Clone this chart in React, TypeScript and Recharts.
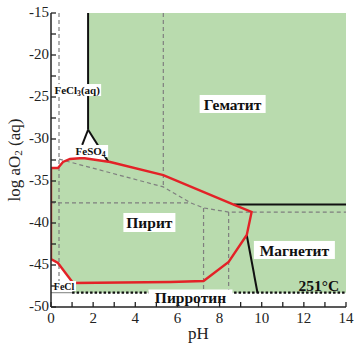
import { ComposedChart, Line, Area, Scatter, XAxis, YAxis } from "recharts";

// pH axis and log aO2 axis
const PH_TICKS = [0, 1, 2, 3, 4, 5, 6, 7, 8, 9, 10, 11, 12, 13, 14];
const LOG_TICKS = [-50, -47.5, -45, -42.5, -40, -37.5, -35, -32.5, -30, -27.5, -25, -22.5, -20, -17.5, -15];

// filled stability field (solid phases) and the white fields of aqueous species
const SOLID_FIELD = [
  { x: 0, r: [-48.3, -15] },
  { x: 14, r: [-48.3, -15] },
];
const FECL3_FIELD = [
  { x: 0, r: [-33.45, -15] },
  { x: 0.33, r: [-33.45, -15] },
  { x: 0.57, r: [-32.74, -15] },
  { x: 0.9, r: [-32.38, -15] },
  { x: 1.52, r: [-32.26, -15] },
  { x: 1.76, r: [-32.35, -15] },
  { x: 1.76, r: [-32.35, -28.9] },
  { x: 2.72, r: [-32.7, -32.7] },
];
const FECL_FIELD = [
  { x: 0, r: [-48.3, -44.29] },
  { x: 0.33, r: [-48.3, -44.76] },
  { x: 0.76, r: [-48.3, -46.19] },
  { x: 1.05, r: [-48.3, -47.14] },
];

// red contour
const RED_LOOP = [
  { x: 0, v: -33.45 },
  { x: 0.33, v: -33.45 },
  { x: 0.57, v: -32.74 },
  { x: 0.9, v: -32.38 },
  { x: 1.52, v: -32.26 },
  { x: 2.81, v: -32.74 },
  { x: 5.33, v: -34.29 },
  { x: 8.67, v: -37.8 },
  { x: 9.52, v: -38.69 },
  { x: 9.29, v: -41.43 },
  { x: 8.43, v: -44.64 },
  { x: 7.24, v: -46.9 },
  { x: 5.67, v: -47.02 },
  { x: 1.05, v: -47.14 },
  { x: 0.76, v: -46.19 },
  { x: 0.33, v: -44.76 },
  { x: 0, v: -44.29 },
  { x: 0, v: -33.45 },
];

// black phase boundaries
const FECL3_HEM = [
  { x: 1.76, v: -15 },
  { x: 1.76, v: -28.9 },
];
const FORK_LEFT = [
  { x: 1.76, v: -28.9 },
  { x: 1.48, v: -30.7 },
];
const FORK_RIGHT = [
  { x: 1.76, v: -28.9 },
  { x: 2.72, v: -32.7 },
];
const HEM_MAG = [
  { x: 8.67, v: -37.8 },
  { x: 14, v: -37.8 },
];
const PYR_MAG = [
  { x: 9.29, v: -41.43 },
  { x: 9.8, v: -48.3 },
];
const PYRRH_TOP = [
  { x: 1.0, v: -48.3 },
  { x: 14, v: -48.3 },
];
const FECL_BASE = [
  { x: 0, v: -48.3 },
  { x: 1.0, v: -48.3 },
];

// grey dashed boundaries
const DASH_V1 = [
  { x: 0.38, v: -15 },
  { x: 0.38, v: -48.3 },
];
const DASH_V2 = [
  { x: 5.33, v: -15 },
  { x: 5.33, v: -35.7 },
];
const DASH_DIAG = [
  { x: 0.38, v: -32.4 },
  { x: 5.33, v: -35.7 },
  { x: 6.62, v: -37.6 },
  { x: 7.24, v: -38.2 },
  { x: 8.43, v: -38.7 },
  { x: 14, v: -38.7 },
];
const DASH_H = [
  { x: 0, v: -37.6 },
  { x: 6.62, v: -37.6 },
];
const DASH_V3 = [
  { x: 7.24, v: -38.2 },
  { x: 7.24, v: -48.3 },
];
const DASH_V4 = [
  { x: 8.43, v: -38.7 },
  { x: 8.43, v: -48.3 },
];

// field names
const LABELS = [
  { id: "hem", x: 8.62, v: -25.83, parts: [["Гематит"]] },
  { id: "pyr", x: 4.67, v: -39.94, parts: [["Пирит"]] },
  { id: "mag", x: 11.55, v: -43.21, parts: [["Магнетит"]] },
  { id: "pyrrh", x: 6.62, v: -48.75, parts: [["Пирротин"]] },
  { id: "temp", x: 12.71, v: -47.38, parts: [["251°C"]] },
  { id: "fecl3", x: 1.24, v: -24.17, parts: [["FeCl"], ["3", "sub"], ["(aq)"]] },
  { id: "feso4", x: 1.88, v: -31.43, parts: [["FeSO"], ["4", "sub"]] },
  { id: "fecl", x: 0.62, v: -47.5, parts: [["FeCl"]] },
];

const BOX: Record<string, { w: number; h: number; fs: number; bg: boolean }> = {
  hem: { w: 66, h: 18, fs: 15.5, bg: true },
  pyr: { w: 52, h: 19, fs: 15.5, bg: true },
  mag: { w: 81, h: 18, fs: 15.5, bg: true },
  pyrrh: { w: 84, h: 14, fs: 15.5, bg: true },
  temp: { w: 44, h: 14, fs: 15.5, bg: false },
  fecl3: { w: 48, h: 12, fs: 11, bg: true },
  feso4: { w: 35, h: 12, fs: 11, bg: true },
  fecl: { w: 24, h: 10, fs: 10, bg: true },
};

const SERIF = "Liberation Serif, Times New Roman, serif";
const GREEN = "#b9dbae";
const RED = "#e32227";
const GREY = "#7f7f7f";

function FieldLabel(props: any) {
  const { cx, cy, payload } = props;
  const b = BOX[payload.id];
  return (
    <g>
      {b.bg && <rect x={cx - b.w / 2} y={cy - b.h / 2} width={b.w} height={b.h} fill="#fff" />}
      <text
        x={cx}
        y={cy}
        textAnchor="middle"
        dominantBaseline="central"
        fontFamily={SERIF}
        fontWeight="bold"
        fontSize={b.fs}
        fill="#111"
      >
        {payload.parts.map((p: string[], i: number) =>
          p[1] === "sub" ? (
            <tspan key={i} dy={3} fontSize={b.fs * 0.7}>
              {p[0]}
            </tspan>
          ) : (
            <tspan key={i} dy={i > 0 ? -3 : 0}>
              {p[0]}
            </tspan>
          )
        )}
      </text>
    </g>
  );
}

const tickFor = (side: string) => (props: any) => {
  const { x, y, payload } = props;
  const v = payload.value;
  const len = 5;
  if (side === "bottom")
    return (
      <g>
        <line x1={x} x2={x} y1={y} y2={y - len} stroke="#222" strokeWidth={1.3} />
        {v % 2 === 0 && (
          <text x={x} y={y + 16} textAnchor="middle" fontFamily={SERIF} fontSize={15} fill="#222">
            {v}
          </text>
        )}
      </g>
    );
  if (side === "top")
    return <line x1={x} x2={x} y1={y} y2={y + len} stroke="#222" strokeWidth={1.3} />;
  if (side === "right")
    return <line x1={x} x2={x - len} y1={y} y2={y} stroke="#222" strokeWidth={1.3} />;
  return (
    <g>
      <line x1={x} x2={x + len} y1={y} y2={y} stroke="#222" strokeWidth={1.3} />
      {v % 5 === 0 && (
        <text x={x - 2} y={y - 1} textAnchor="end" dominantBaseline="central" fontFamily={SERIF} fontSize={15} fill="#222">
          {v}
        </text>
      )}
    </g>
  );
};

const yTitle = (props: any) => {
  const vb = props.viewBox;
  const cy = vb.y + vb.height / 2;
  return (
    <text
      x={14}
      y={cy}
      transform={`rotate(-90 14 ${cy})`}
      textAnchor="middle"
      dominantBaseline="central"
      fontFamily={SERIF}
      fontSize={17}
      fill="#222"
    >
      log aO
      <tspan dy={4} fontSize={11}>
        2
      </tspan>
      <tspan dy={-4}> (aq)</tspan>
    </text>
  );
};

const xTitle = (props: any) => {
  const vb = props.viewBox;
  return (
    <text x={vb.x + vb.width / 2} y={339} textAnchor="middle" fontFamily={SERIF} fontSize={17} fill="#222">
      pH
    </text>
  );
};

function seg(data: any[], key: string, stroke: string, width: number, dash?: string) {
  return (
    <Line
      key={key}
      data={data}
      dataKey="v"
      type="linear"
      stroke={stroke}
      strokeWidth={width}
      strokeDasharray={dash}
      dot={false}
      activeDot={false}
      isAnimationActive={false}
      legendType="none"
    />
  );
}

export default function App() {
  return (
    <div style={{ position: "absolute", left: 0, top: 0, width: 356, height: 344, background: "#fff" }}>
      <ComposedChart width={356} height={344} margin={{ top: 13, right: 10, bottom: 0, left: 0 }}>
        <XAxis
          dataKey="x"
          type="number"
          domain={[0, 14]}
          ticks={PH_TICKS}
          interval={0}
          allowDataOverflow
          height={37}
          tickSize={0}
          tickMargin={0}
          tickLine={false}
          tick={tickFor("bottom")}
          axisLine={{ stroke: "#222", strokeWidth: 1.5 }}
          label={xTitle}
        />
        <XAxis
          xAxisId="top"
          orientation="top"
          dataKey="x"
          type="number"
          domain={[0, 14]}
          ticks={PH_TICKS}
          interval={0}
          allowDataOverflow
          height={0}
          tickSize={0}
          tickMargin={0}
          tickLine={false}
          tick={tickFor("top")}
          axisLine={{ stroke: "#111", strokeWidth: 2 }}
        />
        <YAxis
          type="number"
          domain={[-50, -15]}
          ticks={LOG_TICKS}
          interval={0}
          allowDataOverflow
          width={51}
          tickSize={0}
          tickMargin={0}
          tickLine={false}
          tick={tickFor("left")}
          axisLine={{ stroke: "#222", strokeWidth: 1.5 }}
          label={yTitle}
        />
        <YAxis
          yAxisId="right"
          orientation="right"
          type="number"
          domain={[-50, -15]}
          ticks={LOG_TICKS}
          interval={0}
          allowDataOverflow
          width={0}
          tickSize={0}
          tickMargin={0}
          tickLine={false}
          tick={tickFor("right")}
          axisLine={{ stroke: "#111", strokeWidth: 2 }}
        />

        <Area data={SOLID_FIELD} dataKey="r" type="linear" stroke="none" fill={GREEN} fillOpacity={1} isAnimationActive={false} activeDot={false} />
        <Area data={FECL3_FIELD} dataKey="r" type="linear" stroke="none" fill="#fff" fillOpacity={1} isAnimationActive={false} activeDot={false} />
        <Area data={FECL_FIELD} dataKey="r" type="linear" stroke="none" fill="#fff" fillOpacity={1} isAnimationActive={false} activeDot={false} />

        {seg(DASH_V1, "d1", GREY, 1.2, "4 3")}
        {seg(DASH_V2, "d2", GREY, 1.2, "4 3")}
        {seg(DASH_DIAG, "d3", GREY, 1.2, "4 3")}
        {seg(DASH_H, "d4", GREY, 1.2, "4 3")}
        {seg(DASH_V3, "d5", GREY, 1.2, "4 3")}
        {seg(DASH_V4, "d6", GREY, 1.2, "4 3")}
        {seg(FECL_BASE, "b0", GREY, 1, undefined)}

        {seg(FECL3_HEM, "b1", "#111", 2, undefined)}
        {seg(FORK_LEFT, "b2", "#111", 2, undefined)}
        {seg(FORK_RIGHT, "b3", "#111", 2, undefined)}
        {seg(HEM_MAG, "b4", "#111", 2, undefined)}
        {seg(PYR_MAG, "b5", "#111", 2, undefined)}
        {seg(PYRRH_TOP, "b6", "#111", 2.2, "2.5 2")}

        {seg(RED_LOOP, "red", RED, 2.4, undefined)}

        <Scatter data={LABELS} dataKey="v" shape={FieldLabel} isAnimationActive={false} legendType="none" />
      </ComposedChart>
    </div>
  );
}
